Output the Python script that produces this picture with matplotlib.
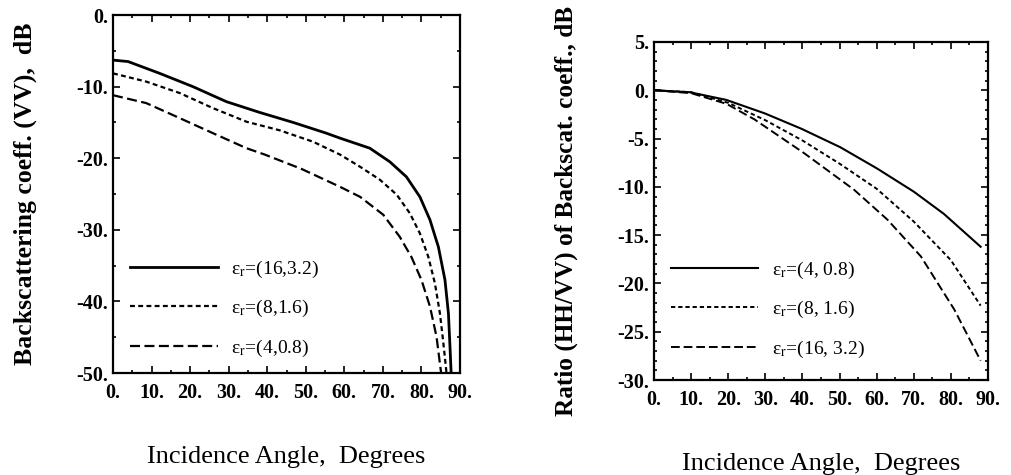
import matplotlib.pyplot as plt
from matplotlib.ticker import MultipleLocator, FuncFormatter

plt.rcParams['font.family'] = 'Liberation Serif'
plt.rcParams['mathtext.fontset'] = 'stix'

# left panel: backscattering coefficient (VV), dB
ang_a = [0, 3.9, 12.1, 20.7, 29.4, 38.0, 46.7, 55.3, 58.9, 62.2, 66.6, 71.8, 76.1,
         79.6, 82.2, 84.4, 86.1, 87.0, 87.4, 87.7]
vv_16 = [-6.3, -6.5, -8.15, -10.0, -12.1, -13.6, -15.0, -16.5, -17.2, -17.8, -18.6,
         -20.5, -22.6, -25.4, -28.6, -32.4, -37.0, -41.7, -46.3, -50.0]
ang_b = [0, 8.6, 17.3, 25.9, 34.6, 43.2, 51.9, 58.9, 64.1, 69.2, 73.6, 77.0, 79.6,
         81.8, 83.5, 84.8, 85.7, 86.5]
vv_8 = [-8.15, -9.3, -10.9, -13.0, -14.9, -16.1, -17.7, -19.5, -21.2, -23.0, -25.1,
        -27.7, -30.5, -33.8, -37.5, -41.7, -45.9, -50.0]
ang_c = [0, 8.6, 17.3, 25.9, 34.6, 39.4, 48.9, 58.9, 64.1, 70.1, 74.4, 77.4, 80.0,
         82.2, 83.9, 85.1]
vv_4 = [-11.2, -12.3, -14.4, -16.5, -18.6, -19.5, -21.5, -24.0, -25.4, -27.9, -31.0,
        -33.8, -37.0, -40.7, -44.9, -50.0]

# right panel: ratio HH/VV, dB
ang_r1 = [0, 9.6, 19.5, 29.9, 39.8, 50.2, 60.1, 70.0, 78.1, 88.0]
hv_4 = [0.0, -0.2, -1.0, -2.4, -4.0, -5.9, -8.1, -10.5, -12.8, -16.2]
ang_r2 = [0, 10, 20, 30, 40, 50, 60, 70, 80, 88]
hv_8 = [0.0, -0.2, -1.3, -3.1, -5.2, -7.6, -10.2, -13.6, -17.6, -22.3]
ang_r3 = [0, 10, 19.5, 27.0, 40.4, 53.9, 62.9, 71.9, 80.9, 88.0]
hv_16 = [0.0, -0.3, -1.4, -3.0, -6.5, -10.3, -13.4, -17.2, -22.7, -28.0]

solid = '-'
short = (0, (2.2, 1.5))
longd = (0, (4.5, 2.0))

fmt = FuncFormatter(lambda v, p: f"{int(round(v))}.")

fig = plt.figure(figsize=(10.11, 4.75), dpi=100)
ax1 = fig.add_axes([0.1118, 0.2147, 0.3432, 0.7537])
ax2 = fig.add_axes([0.6469, 0.2, 0.3304, 0.7116])

ax1.plot(ang_a, vv_16, color='black', lw=2.0, ls=solid, label='ε$_{\\rm r}$=(16,3.2)')
ax1.plot(ang_b, vv_8, color='black', lw=1.6, ls=short, label='ε$_{\\rm r}$=(8,1.6)')
ax1.plot(ang_c, vv_4, color='black', lw=1.6, ls=longd, label='ε$_{\\rm r}$=(4,0.8)')
ax1.set_xlim(0, 90)
ax1.set_ylim(-50, 0)
ax1.xaxis.set_major_locator(MultipleLocator(10))
ax1.xaxis.set_minor_locator(MultipleLocator(5))
ax1.yaxis.set_major_locator(MultipleLocator(10))
ax1.yaxis.set_minor_locator(MultipleLocator(5))
ax1.set_ylabel('Backscattering coeff. (VV),  dB', fontsize=18.5, fontweight='bold', labelpad=28)
ax1.set_xlabel('Incidence Angle,  Degrees', fontsize=19, labelpad=31)

ax2.plot(ang_r1, hv_4, color='black', lw=1.5, ls=solid, label='ε$_{\\rm r}$=(4, 0.8)')
ax2.plot(ang_r2, hv_8, color='black', lw=1.4, ls=short, label='ε$_{\\rm r}$=(8, 1.6)')
ax2.plot(ang_r3, hv_16, color='black', lw=1.4, ls=longd, label='ε$_{\\rm r}$=(16, 3.2)')
ax2.set_xlim(0, 90)
ax2.set_ylim(-30, 5)
ax2.xaxis.set_major_locator(MultipleLocator(10))
ax2.xaxis.set_minor_locator(MultipleLocator(5))
ax2.yaxis.set_major_locator(MultipleLocator(5))
ax2.yaxis.set_minor_locator(MultipleLocator(1))
ax2.set_ylabel('Ratio (HH/VV) of Backscat. coeff., dB', fontsize=18.2, fontweight='bold', labelpad=28)
ax2.set_xlabel('Incidence Angle,  Degrees', fontsize=19, labelpad=31)

for ax, ly in ((ax1, 0.04), (ax2, 0.06)):
    ax.xaxis.set_major_formatter(fmt)
    ax.yaxis.set_major_formatter(fmt)
    ax.tick_params(which='both', direction='in', top=True, right=True, width=1.2,
                   labelsize=14.5)
    ax.tick_params(which='major', length=5)
    ax.tick_params(which='minor', length=2.5)
    ax.tick_params(axis='y', which='major', pad=3.5)
    ax.tick_params(axis='x', which='major', pad=7)
    for lab in ax.get_xticklabels() + ax.get_yticklabels():
        lab.set_fontweight('bold')
    for s in ax.spines.values():
        s.set_linewidth(1.6)
    ax.legend(loc='lower left', bbox_to_anchor=(0.05, ly), frameon=False,
              fontsize=14, handlelength=4.5, handletextpad=0.7, labelspacing=0.95,
              borderpad=0, borderaxespad=0)

fig.savefig('out.png', dpi=100)
